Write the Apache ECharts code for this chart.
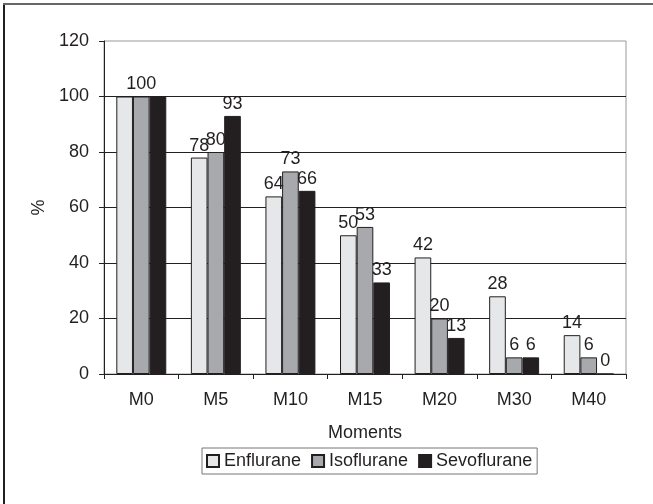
<!DOCTYPE html>
<html>
<head>
<meta charset="utf-8">
<script src="https://cdn.jsdelivr.net/npm/echarts@6/dist/echarts.min.js"></script>
<style>html,body{margin:0;padding:0;background:#fff;}#c{width:653px;height:504px;}</style>
</head>
<body>
<div id="c"></div>
<script>
var categories = ['M0','M5','M10','M15','M20','M30','M40'];
var enflurane = [100,78,64,50,42,28,14];
var isoflurane = [100,80,73,53,20,6,6];
var sevoflurane = [100,93,66,33,13,6,0];
var seriesNames = ['Enflurane','Isoflurane','Sevoflurane'];
var yTicks = {min:0, max:120, interval:20};

var font = 'Liberation Sans, Arial, sans-serif';
var dark = '#231f20';
function mk(name, data, color, hideFirst){
  var items = data.map(function(v, i){
    return (hideFirst && i === 0) ? {value: v, label: {show: false}} : v;
  });
  return {
    name: name, type: 'bar', data: items,
    barGap: '0%', barCategoryGap: '33%',
    itemStyle: {color: color, borderColor: dark, borderWidth: 1},
    label: {show: true, position: 'top', distance: 3, color: dark, fontSize: 18, fontFamily: font}
  };
}
var chart = echarts.init(document.getElementById('c'), null, {renderer:'canvas'});
chart.setOption({
  animation: false,
  backgroundColor: '#fff',
  grid: {left: 104, right: 27, top: 41, bottom: 130, show: true, borderColor: '#999', borderWidth: 1, backgroundColor: 'transparent'},
  legend: {
    data: seriesNames, left: 202, top: 448, icon: 'rect', itemWidth: 12, itemHeight: 12, itemGap: 10,
    padding: [4, 5, 4, 4], borderColor: '#777', borderWidth: 1,
    textStyle: {fontSize: 18, color: dark, fontFamily: font}
  },
  xAxis: {
    type: 'category', data: categories,
    name: 'Moments', nameLocation: 'middle', nameGap: 50,
    nameTextStyle: {fontSize: 18, color: dark, fontFamily: font},
    axisLine: {lineStyle: {color: dark, width: 1}},
    axisTick: {show: true, length: 5, lineStyle: {color: dark}},
    axisLabel: {fontSize: 18, color: dark, fontFamily: font, margin: 17}
  },
  yAxis: {
    type: 'value', min: yTicks.min, max: yTicks.max, interval: yTicks.interval,
    name: '%', nameLocation: 'middle', nameGap: 53, nameRotate: 90,
    nameTextStyle: {fontSize: 18, color: dark, fontFamily: font},
    axisLine: {show: true, lineStyle: {color: dark, width: 1}},
    axisTick: {show: true, length: 5, lineStyle: {color: dark}},
    axisLabel: {fontSize: 18, color: dark, fontFamily: font, margin: 15},
    splitLine: {show: true, showMaxLine: false, lineStyle: {color: dark, width: 1}}
  },
  graphic: [
    {type: 'line', shape: {x1: 4, y1: 3, x2: 4, y2: 504}, style: {stroke: dark, lineWidth: 2}},
    {type: 'line', shape: {x1: 3, y1: 4, x2: 653, y2: 4}, style: {stroke: '#666', lineWidth: 2}}
  ],
  series: [
    mk(seriesNames[0], enflurane, '#e6e7e8', true),
    mk(seriesNames[1], isoflurane, '#a7a9ac', false),
    mk(seriesNames[2], sevoflurane, dark, true)
  ]
});
</script>
</body>
</html>
